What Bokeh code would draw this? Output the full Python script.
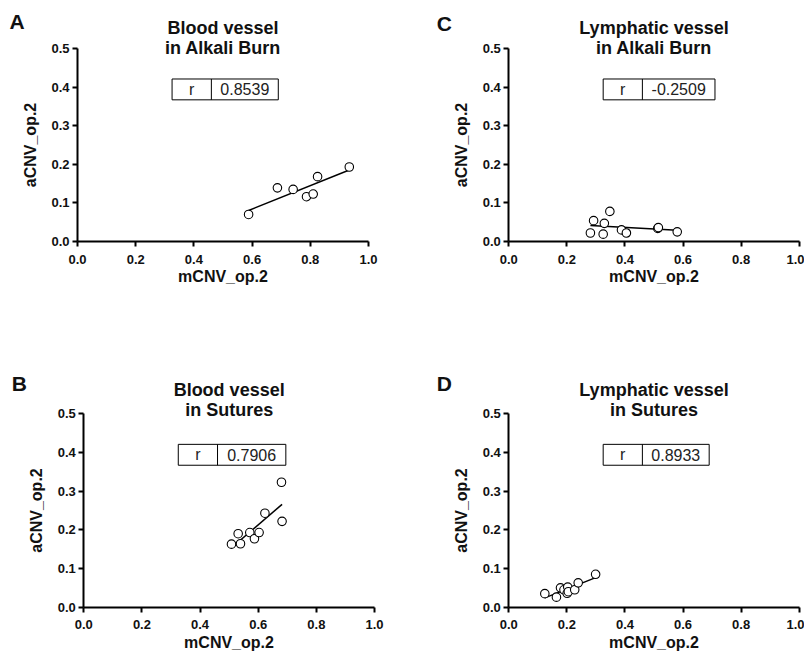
from bokeh.plotting import figure
from bokeh.layouts import column, row
from bokeh.models import Range1d, FixedTicker, Label, NumeralTickFormatter
from bokeh.embed import file_html
from bokeh.resources import INLINE
import numpy as np

# ---- data ----
a_x = [0.588, 0.687, 0.741, 0.787, 0.810, 0.825, 0.934]
a_y = [0.070, 0.139, 0.135, 0.116, 0.123, 0.168, 0.193]
a_r = "0.8539"

c_x = [0.292, 0.329, 0.348, 0.281, 0.325, 0.388, 0.405, 0.513, 0.515, 0.580]
c_y = [0.054, 0.047, 0.078, 0.022, 0.019, 0.030, 0.022, 0.034, 0.036, 0.025]
c_r = "-0.2509"

b_x = [0.508, 0.531, 0.539, 0.571, 0.587, 0.603, 0.623, 0.680, 0.682]
b_y = [0.163, 0.190, 0.164, 0.193, 0.177, 0.193, 0.243, 0.323, 0.222]
b_r = "0.7906"

d_x = [0.124, 0.164, 0.178, 0.190, 0.201, 0.203, 0.205, 0.227, 0.239, 0.299]
d_y = [0.035, 0.026, 0.050, 0.045, 0.036, 0.052, 0.040, 0.045, 0.063, 0.085]
d_r = "0.8933"

x_ticks = [0.0, 0.2, 0.4, 0.6, 0.8, 1.0]
y_ticks = [0.0, 0.1, 0.2, 0.3, 0.4, 0.5]
x_label = "mCNV_op.2"
y_label = "aCNV_op.2"

FONT = "Liberation Sans"
X_MAX, Y_MAX = 1.0, 0.5


def panel(xs, ys, r_text, letter, title1, title2, w, h, fx0, fx1, fy0, fy1,
          letter_dx, letter_dy, t1_dy, box_right, xlab_standoff):
    # the frame fills the whole canvas; axes are pinned at 0 so that texts
    # outside the data area are not clipped
    sx = (fx1 - fx0) / X_MAX
    sy = (fy0 - fy1) / Y_MAX
    p = figure(width=w, height=h, output_backend="svg", toolbar_location=None,
               x_range=Range1d(-fx0 / sx, (w - fx0) / sx),
               y_range=Range1d(-(h - fy0) / sy, fy0 / sy),
               min_border_left=0, min_border_right=0,
               min_border_top=0, min_border_bottom=0)
    p.outline_line_color = None
    p.xgrid.visible = False
    p.ygrid.visible = False
    p.background_fill_color = "white"
    p.border_fill_color = "white"
    for ax, ticks, bnd in ((p.xaxis[0], x_ticks, (0, X_MAX)),
                           (p.yaxis[0], y_ticks, (0, Y_MAX))):
        ax.fixed_location = 0
        ax.bounds = bnd
        ax.ticker = FixedTicker(ticks=ticks)
        ax.formatter = NumeralTickFormatter(format="0.0")
        ax.axis_line_width = 2
        ax.axis_line_color = "black"
        ax.major_tick_line_width = 2
        ax.major_tick_line_color = "black"
        ax.major_tick_in = 0
        ax.major_tick_out = 5
        ax.minor_tick_line_color = None
        ax.major_label_text_font = FONT
        ax.major_label_text_font_style = "bold"
        ax.major_label_text_font_size = "13px"
        ax.major_label_text_color = "#111111"
        ax.axis_label_text_font = FONT
        ax.axis_label_text_font_style = "bold"
        ax.axis_label_text_font_size = "16px"
        ax.axis_label_text_color = "#111111"
    p.xaxis.axis_label = x_label
    p.yaxis.axis_label = y_label
    p.xaxis.major_label_standoff = 8
    p.yaxis.major_label_standoff = 3
    p.xaxis.axis_label_standoff = xlab_standoff
    p.yaxis.axis_label_standoff = 9

    # regression line from the data
    xa = np.array(xs)
    ya = np.array(ys)
    k, b0 = np.polyfit(xa, ya, 1)
    lx = [xa.min(), xa.max()]
    ly = [k * lx[0] + b0, k * lx[1] + b0]
    p.line(lx, ly, line_color="black", line_width=1.5)
    p.scatter(xs, ys, size=8.5, marker="circle", fill_color="white",
              line_color="black", line_width=1.1)

    # r box
    bx0, bdiv, by0, by1 = 0.325, 0.46, 0.367, 0.421
    p.quad(left=[bx0], right=[box_right], bottom=[by0], top=[by1],
           fill_color=None, line_color="black", line_width=1)
    p.segment(x0=[bdiv], y0=[by0], x1=[bdiv], y1=[by1], line_color="black", line_width=1)
    ym = (by0 + by1) / 2
    for tx, tt in (((bx0 + bdiv) / 2, "r"), ((bdiv + box_right) / 2, r_text)):
        p.add_layout(Label(x=tx, y=ym, text=tt, text_align="center",
                           text_baseline="middle", text_font=FONT,
                           text_font_size="16px", text_color="#222222"))

    # title
    p.add_layout(Label(x=0.5, y=Y_MAX, y_offset=t1_dy, text=title1,
                       text_align="center", text_baseline="alphabetic",
                       text_font=FONT, text_font_style="bold",
                       text_font_size="18px", text_color="#111111"))
    p.add_layout(Label(x=0.5, y=Y_MAX, y_offset=t1_dy - 20, text=title2,
                       text_align="center", text_baseline="alphabetic",
                       text_font=FONT, text_font_style="bold",
                       text_font_size="18px", text_color="#111111"))
    # panel letter
    p.add_layout(Label(x=0, y=Y_MAX, x_offset=letter_dx, y_offset=letter_dy,
                       text=letter, text_align="left", text_baseline="top",
                       text_font=FONT, text_font_style="bold",
                       text_font_size="21px", text_color="#111111"))
    return p


pA = panel(a_x, a_y, a_r, "A", "Blood vessel", "in Alkali Burn",
           402, 329, 77, 368, 241, 48, -68, 39, 21, 0.69, 1)
pC = panel(c_x, c_y, c_r, "C", "Lymphatic vessel", "in Alkali Burn",
           402, 329, 106.3, 396.7, 241, 48, -72, 37, 21, 0.71, 1)
pB = panel(b_x, b_y, b_r, "B", "Blood vessel", "in Sutures",
           402, 329, 83.3, 374, 277.7, 84.3, -72, 42, 24, 0.695, 1)
pD = panel(d_x, d_y, d_r, "D", "Lymphatic vessel", "in Sutures",
           402, 329, 106.3, 396.7, 277.7, 84.3, -72, 42, 24, 0.69, 1)

layout = column(row(pA, pC), row(pB, pD))
open("out.html", "w").write(file_html(layout, INLINE))
